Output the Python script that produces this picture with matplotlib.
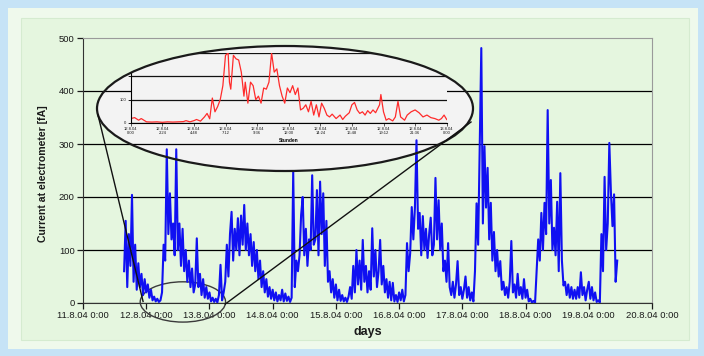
import matplotlib.pyplot as plt
from matplotlib.patches import Ellipse, Rectangle
from matplotlib.lines import Line2D

plt.rcParams['font.family'] = ['Liberation Sans', 'DejaVu Sans']

# main series: day 0 = 11.8.04 0:00, one reading every 0.025 day
day_start = 0.65
day_step = 0.025
current_fa = [
    60, 155, 30, 130, 70, 204, 40, 110, 25, 75, 30, 55, 15, 45, 20, 35, 10, 25, 5, 12,
    3, 8, 2, 5, 20, 110, 80, 290, 130, 207, 120, 150, 90, 290, 100, 150, 70, 140, 60, 100,
    40, 80, 30, 65, 20, 35, 122, 30, 55, 15, 45, 10, 30, 8, 20, 3, 10, 2, 8, 1,
    15, 72, 5, 20, 40, 110, 50, 130, 172, 80, 140, 100, 160, 90, 165, 110, 185, 100, 150, 90,
    130, 70, 115, 60, 100, 45, 80, 30, 60, 20, 45, 12, 30, 8, 25, 5, 20, 3, 15, 5,
    25, 3, 18, 4, 12, 2, 10, 247, 30, 80, 60, 90, 166, 200, 90, 140, 70, 120, 100, 241,
    110, 120, 213, 90, 229, 130, 207, 70, 155, 40, 60, 20, 45, 10, 35, 5, 25, 4, 15, 3,
    10, 2, 12, 30, 8, 70, 20, 100, 35, 80, 25, 119, 40, 70, 20, 60, 25, 141, 50, 100,
    30, 60, 119, 35, 70, 20, 45, 10, 40, 5, 38, 3, 15, 2, 20, 5, 25, 3, 15, 113,
    60, 94, 181, 120, 180, 307, 140, 170, 90, 164, 100, 140, 85, 130, 161, 90, 110, 236, 120, 194,
    100, 150, 60, 80, 40, 113, 30, 15, 40, 10, 35, 79, 15, 30, 8, 25, 50, 10, 30, 5,
    20, 3, 60, 188, 110, 302, 481, 150, 296, 180, 255, 120, 189, 80, 134, 60, 100, 50, 79, 25,
    40, 15, 30, 10, 40, 117, 20, 35, 10, 55, 15, 30, 8, 45, 10, 25, 3, 8, 1, 4,
    0, 60, 120, 80, 170, 100, 189, 130, 364, 150, 232, 100, 142, 90, 191, 60, 245, 80, 33, 40,
    15, 35, 10, 30, 8, 25, 8, 30, 10, 58, 15, 30, 5, 25, 40, 8, 30, 5, 20, 2,
    5, 1, 130, 60, 238, 100, 150, 302, 209, 145, 205, 40, 80,
]
day_ticks = [0, 1, 2, 3, 4, 5, 6, 7, 8, 9]
day_labels = ['11.8.04 0:00', '12.8.04 0:00', '13.8.04 0:00', '14.8.04 0:00',
              '15.8.04 0:00', '16.8.04 0:00', '17.8.04 0:00', '18.8.04 0:00',
              '19.8.04 0:00', '20.8.04 0:00']
current_ticks = [0, 100, 200, 300, 400, 500]

# zoomed inset: 12.8.04, hours
inset_hours = [
    0, 0.3, 0.6, 0.8, 1.0, 1.2, 1.6, 2.0, 2.4, 2.8,
    3.2, 3.6, 4.0, 4.2, 4.5, 4.8, 5.0, 5.3, 5.6, 5.8,
    6.0, 6.2, 6.4, 6.6, 6.8, 7.0, 7.2, 7.4, 7.5, 7.6,
    7.8, 8.0, 8.2, 8.4, 8.6, 8.7, 8.9, 9.1, 9.3, 9.5,
    9.7, 9.9, 10.1, 10.3, 10.5, 10.7, 10.9, 11.1, 11.3, 11.5,
    11.7, 11.9, 12.1, 12.3, 12.5, 12.7, 12.9, 13.1, 13.3, 13.5,
    13.7, 13.9, 14.1, 14.3, 14.5, 14.7, 14.9, 15.1, 15.3, 15.6,
    15.9, 16.1, 16.3, 16.6, 16.8, 17.0, 17.2, 17.4, 17.6, 17.8,
    18.0, 18.2, 18.4, 18.6, 18.9, 19.0, 19.2, 19.4, 19.6, 19.9,
    20.1, 20.3, 20.5, 20.8, 21.0, 21.3, 21.6, 21.9, 22.2, 22.5,
    22.8, 23.1, 23.4, 23.6, 23.8, 24.0,
]
inset_current = [
    19, 23, 12, 19, 12, 5, 4, 5, 3, 5,
    4, 5, 6, 10, 5, 10, 15, 8, 26, 41,
    18, 107, 48, 70, 100, 160, 290, 300, 175, 145,
    290, 275, 270, 218, 115, 175, 85, 175, 160, 100,
    115, 85, 150, 145, 175, 300, 218, 232, 160, 115,
    85, 150, 130, 160, 122, 150, 56, 63, 78, 48,
    93, 34, 78, 26, 85, 63, 34, 26, 38, 19,
    34, 15, 29, 44, 78, 88, 56, 41, 48, 34,
    53, 41, 56, 44, 78, 122, 48, 12, 19, 9,
    26, 93, 26, 12, 34, 48, 56, 44, 26, 34,
    23, 19, 12, 19, 34, 15,
]
hour_ticks = [0, 2.4, 4.8, 7.2, 9.6, 12, 14.4, 16.8, 19.2, 21.6, 24]
hour_labels = ['12.8.04\n0:00', '12.8.04\n2:24', '12.8.04\n4:48', '12.8.04\n7:12',
               '12.8.04\n9:36', '12.8.04\n12:00', '12.8.04\n14:24', '12.8.04\n16:48',
               '12.8.04\n19:12', '12.8.04\n21:36', '13.8.04\n0:00']
inset_ticks = [0, 100, 200, 300]
# 200 and 300 labels sit outside the magnifier, so they are not shown
inset_tick_labels = ['0', '100', '', '']

W, H = 704, 356


def fx(px):
    return px / W


def fy(py):
    return 1 - py / H


fig = plt.figure(figsize=(W / 100, H / 100), dpi=100, facecolor='#c6e3f6')

# light panel behind the chart
fig.add_artist(Rectangle((fx(8), fy(349)), fx(690), 341 / H, transform=fig.transFigure,
                         facecolor='#eff9ec', edgecolor='none', zorder=-2))
fig.add_artist(Rectangle((fx(21), fy(340)), fx(668), 322 / H, transform=fig.transFigure,
                         facecolor='#e5f6df', edgecolor='#d5ebd0', lw=0.8, zorder=-1))

ax = fig.add_axes([fx(83), fy(303), fx(652) - fx(83), (303 - 38) / H])
ax.set_facecolor('none')
days = [day_start + day_step * i for i in range(len(current_fa))]
ax.plot(days, current_fa, color='#1010f2', lw=1.5, zorder=2)

ax.set_xlim(0, 9)
ax.set_ylim(0, 500)
ax.set_xticks(day_ticks, day_labels)
ax.set_yticks(current_ticks)
ax.set_axisbelow(True)
ax.yaxis.grid(True, color='black', lw=0.9)
ax.get_ygridlines()[-1].set_visible(False)
ax.tick_params(direction='out', length=4, width=0.9, labelsize=6.8,
               colors='#1a1a1a', pad=2)
for side in ['left', 'bottom']:
    ax.spines[side].set_color('#333333')
for side in ['top', 'right']:
    ax.spines[side].set_color('#9a9a9a')
    ax.spines[side].set_linewidth(0.8)

ax.set_xlabel('days', fontsize=9, fontweight='bold', color='#1a1a1a')
ax.xaxis.set_label_coords(0.5, -0.088)
ax.set_ylabel('Current at electrometer [fA]', fontsize=7.6, fontweight='bold',
              color='#1a1a1a')
ax.yaxis.set_label_coords(-0.062, 0.49)

# magnifier ellipse
ell_geom = dict(xy=(fx(285), fy(108.5)), width=fx(376), height=125 / H)
ax.add_patch(Ellipse(**ell_geom, transform=fig.transFigure, facecolor='#f3f3f3',
                     edgecolor='none', zorder=0.3, clip_on=False))

ax2 = fig.add_axes([fx(130.7), fy(123), fx(446.7) - fx(130.7), (123 - 53) / H])
ax2.set_facecolor('#f3f3f3')
ax2.plot(inset_hours, inset_current, color='#ff2b2b', lw=0.9)
ax2.set_xlim(0, 24)
ax2.set_ylim(0, 300)
ax2.set_xticks(hour_ticks, hour_labels, fontsize=3, linespacing=1.1)
ax2.set_yticks(inset_ticks, inset_tick_labels, fontsize=3)
ax2.tick_params(length=2, width=0.5, pad=1, colors='#1a1a1a')
ax2.yaxis.grid(True, color='#111111', lw=0.9)
ax2.set_axisbelow(True)
for side in ['top', 'right']:
    ax2.spines[side].set_visible(False)
for side in ['left', 'bottom']:
    ax2.spines[side].set_linewidth(0.8)
ax2.set_xlabel('Stunden', fontsize=3.5, fontweight='bold', labelpad=2)

fig.canvas.draw()
clip_ell = Ellipse(**ell_geom, transform=fig.transFigure)
for art in ax2.findobj():
    if art is not ax2:
        art.set_clip_path(clip_ell)
        art.set_clip_on(True)

fig.add_artist(Ellipse(**ell_geom, transform=fig.transFigure, fill=False,
                       edgecolor='#1a1a1a', lw=1.6, zorder=5))

# small ellipse around 12.8 and the two connector lines
ax.add_patch(Ellipse((1.58, 2), 1.35, 76, fill=False, edgecolor='#3a3a3a', lw=1.0,
                     clip_on=False, zorder=1.8))
to_fig = ax.transData + fig.transFigure.inverted()
for xa, ya, xb, yb in [(98, 115, 0.95, 3), (471, 122, 2.25, -2)]:
    bx, by = to_fig.transform((xb, yb))
    fig.add_artist(Line2D([fx(xa), bx], [fy(ya), by], transform=fig.transFigure,
                          color='#111111', lw=1.0, zorder=5))

fig.savefig('out.png', dpi=100, facecolor=fig.get_facecolor())
